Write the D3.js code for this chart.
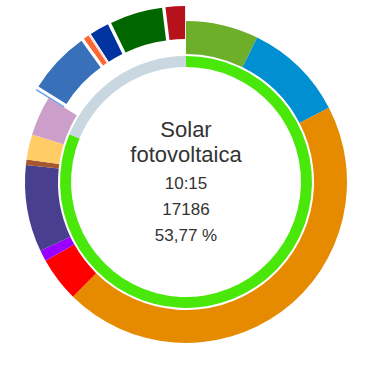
<!DOCTYPE html>
<html>
<head>
<meta charset="utf-8">
<script src="https://cdn.jsdelivr.net/npm/d3@7"></script>
<style>
  body { margin: 0; background: #fff; }
  text { font-family: "Liberation Sans", Arial, sans-serif; fill: #333; }
</style>
</head>
<body>
<div id="chart"></div>
<script>
// DATA (MW)
const categories = ["Eólica", "Hidráulica", "Solar fotovoltaica", "Solar térmica", "Otras renovables",
    "Nuclear", "Carbón", "Ciclo combinado", "Cogeneración",
    "Residuos", "Consumo bombeo", "Enlace Baleares", "Andorra", "Francia", "Portugal", "Marruecos"];
const values = [2780, 3850, 17186, 1710, 420, 3330, 210, 960, 1516,
    53, 2390, 212, 53, 743, 2018, 743];
const colors = ["#6eaf2a", "#008fd0", "#e68a00", "#ff0000", "#9a00ff", "#483f8f", "#a5572f", "#ffcc66", "#cc9fcb",
    "#5d9ce6", "#3871ba", "#ff6633", "#f2d9cf", "#0033a0", "#006600", "#b5121b"];
// slices pulled out of the ring (intercambios / consumos)
const exploded = [false, false, false, false, false, false, false, false, false,
    true, true, true, true, true, true, true];

const innerLabels = ["Renovable", "No renovable"];
const innerValues = [81.18, 18.82];
const innerColors = ["#4ae80a", "#c9d7e0"];

const selected = "Solar fotovoltaica";
const hour = "10:15";
const generation = 31962;

// CONSTANTS
const width = 373, height = 367;
const cx = 186, cy = 182;
const rOuter = 161, rOuterIn = 128;
const rInner = 126, rInnerIn = 115;
const pull = 15;

let svg = d3.select("#chart")
    .append("svg")
        .attr("width", width)
        .attr("height", height)
    .append("g")
        .attr("transform", `translate(${cx}, ${cy})`);

let data = categories.map((c, i) => ({name: c, value: values[i], color: colors[i], out: exploded[i]}));

let pie = d3.pie().sort(null).value((d) => d.value);
let arcOuter = d3.arc().innerRadius(rOuterIn).outerRadius(rOuter);

svg.selectAll("path.outer")
    .data(pie(data))
    .enter()
    .append("path")
        .attr("class", "outer")
        .attr("d", arcOuter)
        .attr("fill", (d) => d.data.color)
        .attr("transform", (d) => {
            if (!d.data.out) return null;
            let mid = (d.startAngle + d.endAngle) / 2;
            return `translate(${pull * Math.sin(mid)}, ${-pull * Math.cos(mid)})`;
        });

let innerData = innerLabels.map((l, i) => ({name: l, value: innerValues[i], color: innerColors[i]}));
let arcInner = d3.arc().innerRadius(rInnerIn).outerRadius(rInner);

svg.selectAll("path.inner")
    .data(pie(innerData))
    .enter()
    .append("path")
        .attr("class", "inner")
        .attr("d", arcInner)
        .attr("fill", (d) => d.data.color);

// center labels
let sel = data.find((d) => d.name === selected);
let pct = (sel.value / generation * 100).toFixed(2).replace(".", ",") + " %";
let words = selected.split(" ");
let lines = [
    {t: words[0], y: 137 - cy, s: 22},
    {t: words[1], y: 162 - cy, s: 22},
    {t: hour, y: 189 - cy, s: 17},
    {t: String(sel.value), y: 215 - cy, s: 17},
    {t: pct, y: 241 - cy, s: 17}
];

svg.selectAll("text.center")
    .data(lines)
    .enter()
    .append("text")
        .attr("class", "center")
        .attr("x", 0)
        .attr("y", (d) => d.y)
        .attr("text-anchor", "middle")
        .style("font-size", (d) => d.s + "px")
        .text((d) => d.t);
</script>
</body>
</html>
